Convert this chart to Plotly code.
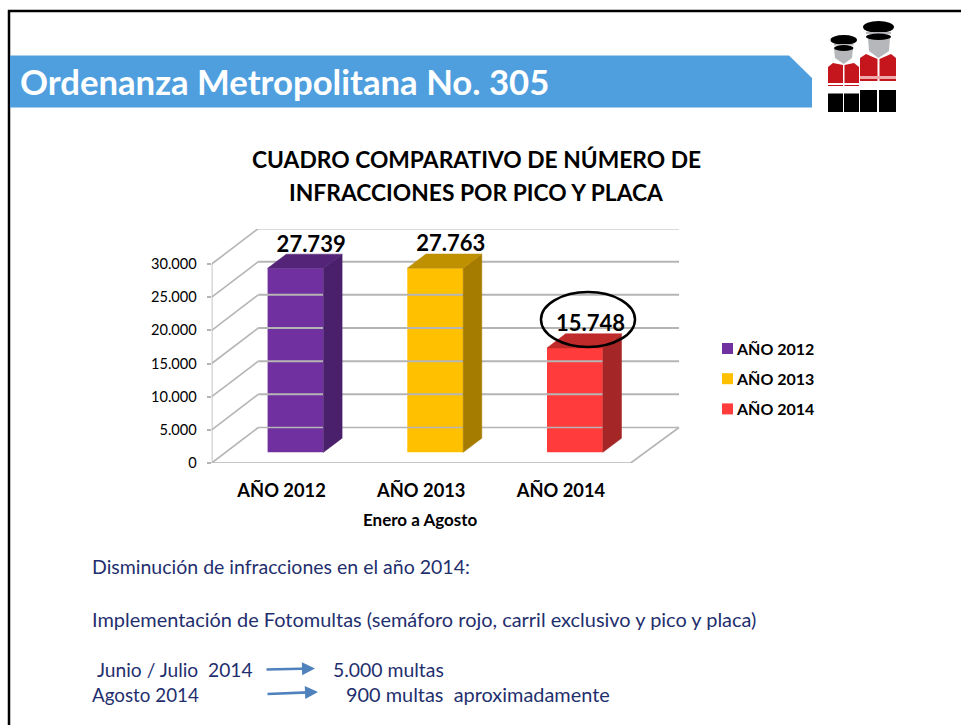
import plotly.graph_objects as go

W, H = 961, 725
categories = ["AÑO 2012", "AÑO 2013", "AÑO 2014"]
values = [27739, 27763, 15748]
value_labels = ["27.739", "27.763", "15.748"]
front_colors = ["#7030A0", "#FFC000", "#FF3B3B"]
side_colors = ["#4A1F6B", "#A67C00", "#A52626"]
top_colors = ["#542478", "#BF9000", "#BF2A2A"]
y_ticks = [0, 5000, 10000, 15000, 20000, 25000, 30000]
y_tick_labels = ["0", "5.000", "10.000", "15.000", "20.000", "25.000", "30.000"]

X0, X1, Y0, Y1 = 211.7, 680.0, 463.0, 229.0     # plot area in pixels
CAT_W = 139.7
PX_PER_UNIT = 199.0 / 30000
DX = 46.6 / CAT_W                                # chart depth in x units
DY = 35.5 / PX_PER_UNIT                          # chart depth in y units
BAR_W = 0.40
NEAR, FAR = 0.30, 0.70
GRID = "#B5B5B5"
NAVY = "#1F2F6E"
FONT = "Lato"

fig = go.Figure()


def line(xs, ys, color=GRID, width=1.6):
    fig.add_trace(go.Scatter(x=xs, y=ys, mode="lines", line=dict(color=color, width=width),
                             showlegend=False, hoverinfo="skip", cliponaxis=False))


def poly(xs, ys, color):
    fig.add_trace(go.Scatter(x=xs, y=ys, mode="lines", fill="toself", fillcolor=color,
                             line=dict(color=color, width=0.5), showlegend=False,
                             hoverinfo="skip", cliponaxis=False))


left = -0.5
right = left + (630.7 - X0) / CAT_W
back_right = right + DX + 1.7 / CAT_W
for t in y_ticks:
    line([left + DX, back_right], [t + DY, t + DY], width=2 if t else 1.6)
    line([left, left + DX], [t, t + DY])
line([left, right, back_right], [0, 0, DY])
line([left, left], [0, 30000])

for i, v in enumerate(values):
    x_a = i - BAR_W / 2 + NEAR * DX
    x_b = i + BAR_W / 2 + NEAR * DX
    base = NEAR * DY
    dx = (FAR - NEAR) * DX
    dy = (FAR - NEAR) * DY
    poly([x_b, x_b + dx, x_b + dx, x_b, x_b], [base, base + dy, v + base + dy, v + base, base], side_colors[i])
    poly([x_a, x_b, x_b + dx, x_a + dx, x_a], [v + base, v + base, v + base + dy, v + base + dy, v + base], top_colors[i])
    fig.add_trace(go.Bar(x=[i + NEAR * DX], y=[v], base=[base], width=[BAR_W], name=categories[i],
                         marker=dict(color=front_colors[i], line=dict(width=0)), showlegend=False,
                         hoverinfo="skip"))
    fig.add_trace(go.Scatter(x=[i + (NEAR + FAR) / 2 * DX + 0.045], y=[v + FAR * DY - 3 / PX_PER_UNIT], mode="text",
                             text=[value_labels[i]], textposition="top center",
                             textfont=dict(family=FONT, size=22, color="#000000", weight="bold"),
                             showlegend=False, hoverinfo="skip", cliponaxis=False))

fig.update_layout(
    width=W, height=H, margin=dict(l=0, r=0, t=0, b=0), showlegend=False,
    paper_bgcolor="#FFFFFF", plot_bgcolor="rgba(0,0,0,0)",
    font=dict(family=FONT, color="#000000"), barmode="overlay",
    xaxis=dict(domain=[X0 / W, X1 / W], range=[left, left + (X1 - X0) / CAT_W], automargin=False,
               tickvals=[0, 1, 2], ticktext=categories, showgrid=False, zeroline=False, showline=False,
               ticks="", ticklabelstandoff=15,
               tickfont=dict(family=FONT, size=18.3, weight="bold", color="#000000")),
    yaxis=dict(domain=[1 - Y0 / H, 1 - Y1 / H], range=[0, (Y0 - Y1) / PX_PER_UNIT], automargin=False,
               tickvals=y_ticks, ticktext=y_tick_labels, showgrid=False, zeroline=False, showline=False,
               ticks="outside", ticklen=4, tickcolor=GRID, tickwidth=1.5, ticklabelstandoff=7,
               tickfont=dict(family=FONT, size=14.6, color="#000000")),
)


def px_x(x):
    return x / W


def px_y(y):
    return 1 - y / H


def add_shape(kind, x0, y0, x1, y1, fill, lc=None, lw=0):
    fig.add_shape(type=kind, xref="paper", yref="paper", x0=px_x(x0), y0=px_y(y0), x1=px_x(x1), y1=px_y(y1),
                  fillcolor=fill, line=dict(color=lc or fill, width=lw), layer="above")


def add_path(points, fill):
    d = "M" + " L".join(f"{px_x(x):.5f},{px_y(y):.5f}" for x, y in points) + " Z"
    fig.add_shape(type="path", xref="paper", yref="paper", path=d, fillcolor=fill, line=dict(width=0), layer="above")


# slide frame
fig.add_shape(type="line", xref="paper", yref="paper", x0=px_x(8), y0=px_y(11), x1=1, y1=px_y(11),
              line=dict(color="#000000", width=2.5))
fig.add_shape(type="line", xref="paper", yref="paper", x0=px_x(9), y0=px_y(10), x1=px_x(9), y1=0,
              line=dict(color="#000000", width=2.5))

# header ribbon
add_path([(10, 55.5), (789, 55.5), (812, 78), (812, 107.5), (10, 107.5)], "#4F9FDF")


def text(x, y, s, size, color=NAVY, anchor="left", bold=False):
    fig.add_annotation(xref="paper", yref="paper", x=px_x(x - (2 if anchor == "left" else 0)), y=px_y(y),
                       text=f"<b>{s}</b>" if bold else s,
                       showarrow=False, xanchor=anchor, yanchor="middle",
                       font=dict(family=FONT, size=size, color=color))


text(19.5, 82, "Ordenanza Metropolitana No. 305", 34.7, "#FFFFFF", bold=True)
text(476, 159, "CUADRO COMPARATIVO DE NÚMERO DE", 22.8, "#000000", "center", True)
text(476, 192, "INFRACCIONES POR PICO Y PLACA", 22.8, "#000000", "center", True)
text(420.5, 519, "Enero a Agosto", 17, "#000000", "center", True)
text(92, 566, "Disminución de infracciones en el año 2014:", 19.5)
text(92, 619, "Implementación de Fotomultas (semáforo rojo, carril exclusivo y pico y placa)", 19.95)
text(96.5, 669, "Junio / Julio  2014", 19.2)
text(92, 694, "Agosto 2014", 18.8)
text(333, 669, "5.000 multas", 19.4)
text(346, 694, "900 multas  aproximadamente", 19.9)

for (xa, ya, xb, yb) in [(265, 669.5, 315, 668.5), (266, 694, 318, 692)]:
    fig.add_annotation(xref="paper", yref="paper", axref="pixel", ayref="pixel",
                       x=px_x(xb), y=px_y(yb), ax=xa - xb, ay=ya - yb, text="", showarrow=True,
                       arrowhead=2, arrowsize=1, arrowwidth=2.6, arrowcolor="#4F81BD")

# legend, built from the same categories and colours as the bars
for i, name in enumerate(categories):
    yc = 348.5 + 30.2 * i
    add_shape("rect", 722, yc - 5.5, 733, yc + 5.5, front_colors[i])
    text(735.5, yc, name, 16, "#000000", "left", True)

# ellipse round the 2014 value
fig.add_shape(type="circle", xref="paper", yref="paper", x0=px_x(541), y0=px_y(292), x1=px_x(635), y1=px_y(347),
              fillcolor="rgba(0,0,0,0)", line=dict(color="#000000", width=2.5), layer="above")

# officers icon
RED, GREY, BLACK, PINK = "#C4161C", "#B5B7BB", "#000000", "#EFA9AB"
# small figure
add_path([(834, 48), (853, 48), (852, 58), (843.7, 64), (835, 58)], GREY)
add_path([(828, 67), (833, 63), (843, 65), (843, 86), (828, 86)], RED)
add_path([(844.5, 65), (854, 63), (859, 67), (859, 86), (844.5, 86)], RED)
add_shape("rect", 828, 83, 859, 85, "#FFFFFF")
add_shape("circle", 830.5, 35, 857, 45, BLACK)
add_shape("rect", 834, 44, 853.5, 45.5, GREY)
add_shape("circle", 834, 45, 853.5, 51, BLACK)
add_shape("rect", 828, 93.5, 843, 112, BLACK)
add_shape("rect", 844, 93.5, 859, 112, BLACK)
# large figure
add_path([(868, 38), (890, 38), (889, 51), (878.5, 58), (869, 51)], GREY)
add_path([(860, 58), (866, 54), (877.5, 59), (877.5, 81), (860, 81)], RED)
add_path([(879.5, 59), (891, 54), (896, 58), (896, 81), (879.5, 81)], RED)
add_shape("rect", 860, 76, 896, 79, PINK)
add_shape("circle", 863, 21, 894, 33, BLACK)
add_shape("rect", 866, 32, 891, 34, GREY)
add_shape("circle", 866, 33.5, 891, 40, BLACK)
add_shape("rect", 860, 90, 877, 112, BLACK)
add_shape("rect", 879, 90, 896, 112, BLACK)

fig.write_html("out.html", post_script="document.body.style.margin='0';document.body.style.overflow='hidden';",
               config={"displayModeBar": False})
